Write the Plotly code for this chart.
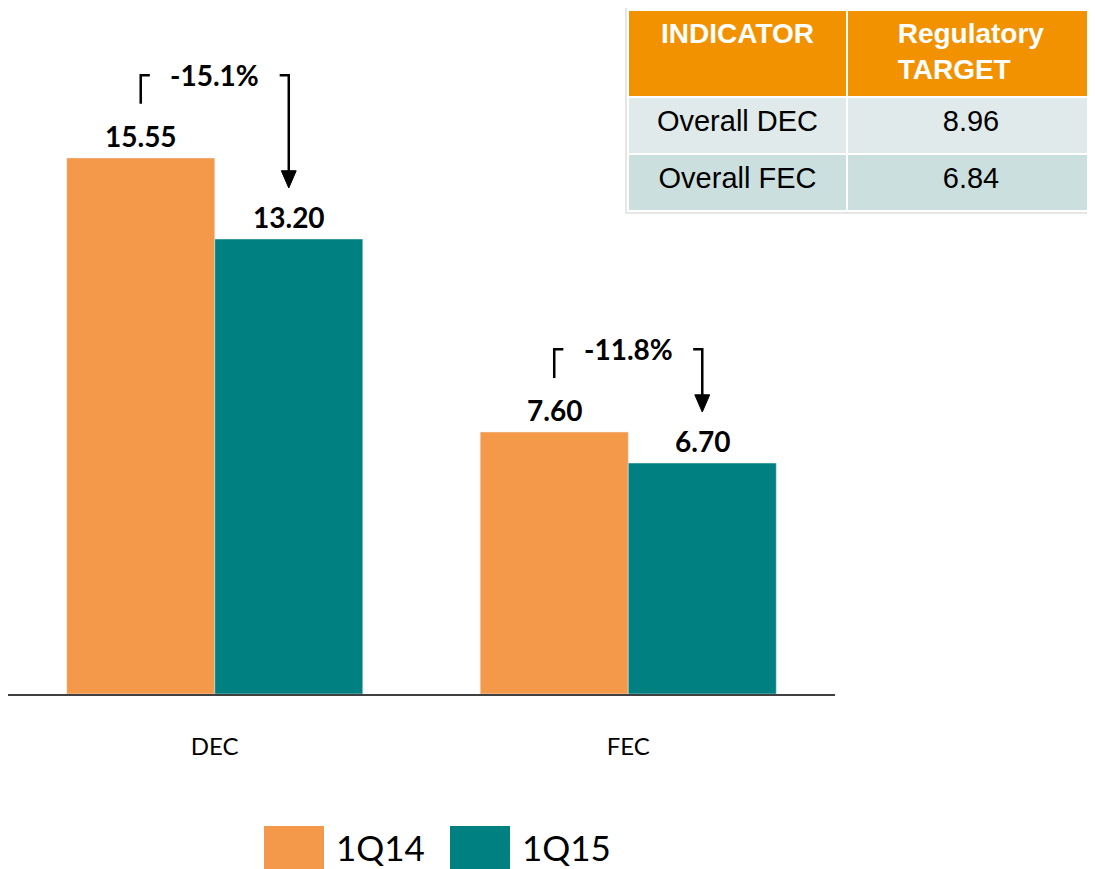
import plotly.graph_objects as go

categories = ["DEC", "FEC"]
series_names = ["1Q14", "1Q15"]
values_1q14 = [15.55, 7.60]
values_1q15 = [13.20, 6.70]
change_labels = ["-15.1%", "-11.8%"]

table_header = ["<b>INDICATOR</b>", "<b>Regulatory<br>TARGET</b>"]
table_indicators = ["Overall DEC", "Overall FEC"]
table_targets = ["8.96", "6.84"]

ORANGE = "#F4994A"
TEAL = "#008080"
# page body has an 8px margin, so the figure is 8px smaller and shifted
OFF = 8
W, H = 1095 - OFF, 869 - OFF
FONT = "Lato"


def px(x):
    return (x - OFF) / W


def py(y):
    return 1 - (y - OFF) / H


def cell_text(items):
    # small spacer line pushes the text towards the vertical centre of the cell
    return ["<br><span style='font-size:29px'>" + s + "</span>" for s in items]


fig = go.Figure()
fig.add_trace(go.Bar(x=categories, y=values_1q14, name=series_names[0],
                     marker_color=ORANGE, showlegend=False))
fig.add_trace(go.Bar(x=categories, y=values_1q15, name=series_names[1],
                     marker_color=TEAL, showlegend=False))

fig.add_trace(go.Table(
    domain=dict(x=[px(628), 1], y=[py(212), py(10)]),
    columnwidth=[219, 248],
    header=dict(values=table_header, fill_color="#F39200",
                font=dict(family="Liberation Sans", size=28, color="white"),
                line=dict(color="white", width=2), align="center", height=87),
    cells=dict(values=[cell_text(table_indicators), cell_text(table_targets)],
               fill_color=[["#E0EAEA", "#CCDFDF"]] * 2,
               font=dict(family="Liberation Sans", size=17, color="black"),
               line=dict(color="white", width=2), align="center", height=57),
))

off = 0.179
dx = 0.022
shapes = [dict(type="rect", xref="paper", yref="paper", x0=px(626), x1=1.01,
               y0=py(213), y1=py(7), line=dict(color="#E6E6E6", width=2), layer="below")]
annotations = []
for i, (a, b, lab) in enumerate(zip(values_1q14, values_1q15, change_labels)):
    xl, xr = i - off, i + off
    ybot = a + 1.57
    ytop = a + 2.40
    ytip = b + 1.48
    shapes.append(dict(type="path", xref="x", yref="y",
                       path=f"M {xl},{ybot} L {xl},{ytop} L {xl + dx},{ytop}",
                       line=dict(color="black", width=2.5)))
    shapes.append(dict(type="path", xref="x", yref="y",
                       path=f"M {xr - dx},{ytop} L {xr},{ytop} L {xr},{ytip + 0.45}",
                       line=dict(color="black", width=2.5)))
    shapes.append(dict(type="path", xref="x", yref="y",
                       path=f"M {xr - 0.018},{ytip + 0.5} L {xr + 0.018},{ytip + 0.5} L {xr},{ytip} Z",
                       fillcolor="black", line=dict(color="black", width=1)))
    annotations.append(dict(x=i, y=ytop, xref="x", yref="y", text=f"<b>{lab}</b>",
                            showarrow=False, yanchor="middle",
                            font=dict(family=FONT, size=28, color="black")))
    for xv, v in ((xl, a), (xr, b)):
        annotations.append(dict(x=xv, y=v, xref="x", yref="y", text=f"<b>{v:.2f}</b>",
                                showarrow=False, yanchor="bottom", yshift=3,
                                font=dict(family=FONT, size=28, color="black")))

# legend swatches
legend_items = [(series_names[0], ORANGE, 264), (series_names[1], TEAL, 450)]
for name, col, x0 in legend_items:
    shapes.append(dict(type="rect", xref="paper", yref="paper",
                       x0=px(x0), x1=px(x0 + 60), y0=py(869), y1=py(826),
                       fillcolor=col, line=dict(width=0)))
    annotations.append(dict(x=px(x0 + 70), y=py(847), xref="paper", yref="paper",
                            text=name, showarrow=False, xanchor="left", yanchor="middle",
                            font=dict(family=FONT, size=35, color="black")))

fig.update_layout(
    width=W, height=H,
    margin=dict(l=0, r=0, t=0, b=0, pad=0),
    paper_bgcolor="white", plot_bgcolor="white",
    barmode="group", bargap=0.284, bargroupgap=0,
    shapes=shapes, annotations=annotations,
    xaxis=dict(domain=[px(8), px(835)], showline=True, linecolor="#404040", linewidth=1.5,
               ticks="outside", ticklen=30, tickcolor="rgba(0,0,0,0)",
               tickfont=dict(family=FONT, size=24, color="black"), showgrid=False),
    yaxis=dict(domain=[py(694), 1], range=[0, (694 - OFF) / 34.47], visible=False,
               showgrid=False),
)

fig.write_html("out.html")
